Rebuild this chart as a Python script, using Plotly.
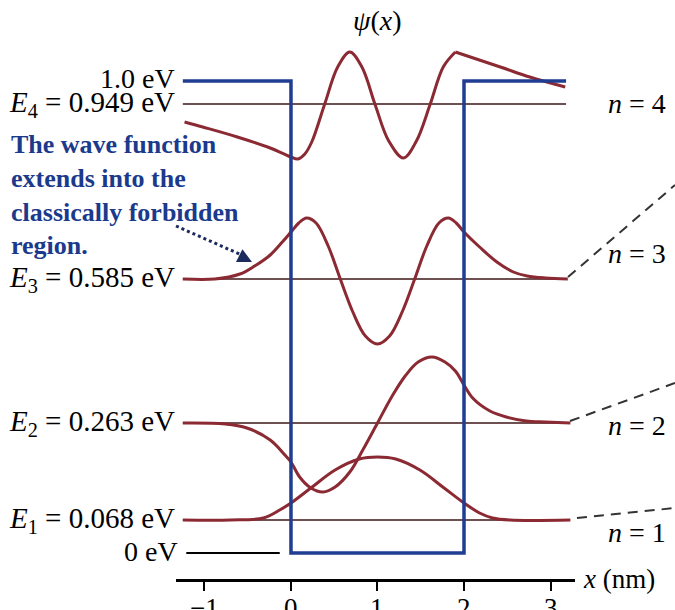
import plotly.graph_objects as go

# ---------------- data ----------------
well_depth_eV = 1.0
energies_eV = [0.068, 0.263, 0.585, 0.949]          # E1..E4
state_n = [1, 2, 3, 4]
well_left_nm, well_right_nm = 0.0, 2.0
x_ticks = [-1, 0, 1, 2, 3]
x_tick_text = ["\u22121", "0", "1", "2", "3"]

# schematic (non-linear) drawing heights of the energy levels
level_height = [90, 187, 331, 506]
top_height = 529      # 1.0 eV
bottom_height = 57    # 0 eV

# wave functions: x (nm) and displacement of psi from its level line
psi1_x = [-1.25, -0.70, -0.32, -0.13, 0.0, 0.23, 0.51, 0.79, 1.0, 1.21, 1.49, 1.77, 2.0, 2.18, 2.33, 2.53, 3.23]
psi1_v = [0, 0, 2, 10, 17, 32, 50, 61, 63, 61, 50, 32, 17, 7, 2, 0, 0]

psi2_x = [-1.25, -0.76, -0.51, -0.24, -0.07, 0.0, 0.10, 0.23, 0.37, 0.51, 0.68, 0.83, 1.0, 1.17, 1.32,
          1.47, 1.63, 1.78, 1.90, 2.0, 2.10, 2.30, 2.49, 2.72, 2.94, 3.23]
psi2_v = [0, -1, -5, -17, -32, -39, -54, -65, -69, -64, -49, -27, 0, 27, 47,
          61, 66, 61, 52, 38, 25, 12, 6, 2, 1, 0]

psi3_x = [-1.25, -0.88, -0.59, -0.42, -0.24, -0.10, 0.0, 0.09, 0.18, 0.29, 0.43, 0.57, 0.71, 0.86, 1.0,
          1.14, 1.29, 1.43, 1.57, 1.71, 1.82, 1.91, 2.0, 2.18, 2.38, 2.57, 2.73, 2.94, 3.20]
psi3_v = [0, 0, 5, 13, 24, 37, 47, 56, 61, 56, 33, 0, -32, -57, -65,
          -57, -32, 0, 33, 56, 61, 56, 47, 32, 17, 7, 3, 1, 0]

# n = 4: oscillating part up to the last crest, then the straight-ish tail
psi4_x = [-1.23, -1.02, -0.62, -0.24, -0.03, 0.0, 0.08, 0.16, 0.24, 0.39, 0.54, 0.68, 0.82, 0.97,
          1.13, 1.30, 1.45, 1.61, 1.76, 1.90]
psi4_v = [-18, -23, -33, -44, -52, -53, -55, -50, -38, 0, 37, 52, 37, 0,
          -37, -54, -37, 0, 37, 52]
psi4_tail_x = [1.90, 2.42, 2.76, 3.17]
psi4_tail_v = [52, 37, 27, 17]

curves = [(psi1_x, psi1_v, level_height[0]),
          (psi2_x, psi2_v, level_height[1]),
          (psi3_x, psi3_v, level_height[2]),
          (psi4_x, psi4_v, level_height[3]),
          (psi4_tail_x, psi4_tail_v, level_height[3])]

# ---------------- styling ----------------
W, H = 675, 610
SERIF = "Liberation Serif, Times New Roman, serif"
RED = "#8b2a33"
BLUE = "#1f3d91"
LEVEL = "#6e5050"
TXT_BLUE = "#1b3a8c"
x_lo, x_hi = -1.25, 3.18


def px(p):
    return p / W


fig = go.Figure()

# energy level lines
for h in level_height:
    fig.add_trace(go.Scatter(x=[x_lo, x_hi], y=[h, h], mode="lines",
                             line=dict(color=LEVEL, width=2), hoverinfo="skip"))
# 0 eV line outside the well
fig.add_trace(go.Scatter(x=[-1.21, -0.13], y=[bottom_height, bottom_height], mode="lines",
                         line=dict(color="black", width=2), hoverinfo="skip"))

# wave functions
for xs, vs, h in curves:
    fig.add_trace(go.Scatter(x=xs, y=[h + v for v in vs], mode="lines",
                             line=dict(color=RED, width=3, shape="spline", smoothing=1.0),
                             hoverinfo="skip"))

# potential well
fig.add_trace(go.Scatter(
    x=[x_lo, well_left_nm, well_left_nm, well_right_nm, well_right_nm, x_hi],
    y=[top_height, top_height, bottom_height, bottom_height, top_height, top_height],
    mode="lines", line=dict(color=BLUE, width=3.5), hoverinfo="skip"))

ann = []
# left labels
ann.append(dict(x=px(177), y=top_height + 3, xref="paper", yref="y", xanchor="right", yanchor="middle",
                text=f"{well_depth_eV:.1f} eV", showarrow=False, font=dict(family=SERIF, size=28, color="black")))
for n, E, h in zip(state_n, energies_eV, level_height):
    ann.append(dict(x=px(177), y=h, xref="paper", yref="y", xanchor="right", yanchor="middle",
                    text=f"<i>E</i><sub>{n}</sub> = {E:.3f} eV", showarrow=False,
                    font=dict(family=SERIF, size=29, color="black")))
ann.append(dict(x=px(180), y=bottom_height + 2, xref="paper", yref="y", xanchor="right", yanchor="middle",
                text="0 eV", showarrow=False, font=dict(family=SERIF, size=28, color="black")))

# right labels
right_label_h = [78, 185, 357, 507]
for n, h in zip(state_n, right_label_h):
    ann.append(dict(x=px(606), y=h, xref="paper", yref="y", xanchor="left", yanchor="middle",
                    text=f"<i>n</i> = {n}", showarrow=False, font=dict(family=SERIF, size=28, color="black")))

# title psi(x)
ann.append(dict(x=px(377), y=590, xref="paper", yref="y", xanchor="center", yanchor="middle",
                text="<i>ψ</i>(<i>x</i>)", showarrow=False, font=dict(family=SERIF, size=28, color="black")))
# x axis label
ann.append(dict(x=px(581), y=31, xref="paper", yref="y", xanchor="left", yanchor="middle",
                text="<i>x</i> (nm)", showarrow=False, font=dict(family=SERIF, size=27, color="black")))
# x tick labels (placed close under the ticks, cut by the bottom edge like the reference)
for v, t in zip(x_ticks, x_tick_text):
    ann.append(dict(x=v, y=19, xref="x", yref="y", xanchor="center", yanchor="top",
                    text=t, showarrow=False, font=dict(family=SERIF, size=27, color="black")))

# blue explanatory text
ann.append(dict(x=px(9), y=482, xref="paper", yref="y", xanchor="left", yanchor="top",
                align="left", showarrow=False,
                text="<b>The wave function<br>extends into the<br>classically forbidden<br>region.</b>",
                font=dict(family=SERIF, size=26, color=TXT_BLUE)))
# arrow head for the dotted arrow
ann.append(dict(x=px(252), y=348, xref="paper", yref="y", ax=-12, ay=-6, text="", showarrow=True,
                arrowhead=2, arrowsize=1.3, arrowwidth=2.2, arrowcolor="#1c2b5e"))

shapes = [
    # dotted arrow shaft
    dict(type="line", xref="paper", yref="y", x0=px(176), y0=384, x1=px(244), y1=354,
         line=dict(color="#1c2b5e", width=3, dash="dot")),
    # dashed connectors to the right
    dict(type="line", xref="paper", yref="y", x0=px(568), y0=333, x1=1.0, y1=425,
         line=dict(color="#333333", width=2, dash="10px,7px")),
    dict(type="line", xref="paper", yref="y", x0=px(570), y0=189, x1=1.0, y1=227,
         line=dict(color="#333333", width=2, dash="10px,7px")),
    dict(type="line", xref="paper", yref="y", x0=px(577), y0=92, x1=1.0, y1=102,
         line=dict(color="#333333", width=2, dash="10px,7px")),
]

fig.update_layout(
    width=W, height=H, margin=dict(l=0, r=0, t=0, b=0, autoexpand=False),
    paper_bgcolor="white", plot_bgcolor="white", showlegend=False,
    annotations=ann, shapes=shapes,
    xaxis=dict(domain=[176 / W, 575 / W], range=[-1.329, 3.283], anchor="free", position=30 / H,
               showline=True, linecolor="black", linewidth=2.5, ticks="outside", ticklen=9,
               tickwidth=2, tickcolor="black", tickvals=x_ticks, showticklabels=False,
               showgrid=False, zeroline=False, automargin=False),
    yaxis=dict(domain=[0, 1], range=[0, H], visible=False, fixedrange=True, automargin=False),
)

fig.write_html("out.html", config={"displayModeBar": False},
               post_script="document.body.style.margin='0px';")
